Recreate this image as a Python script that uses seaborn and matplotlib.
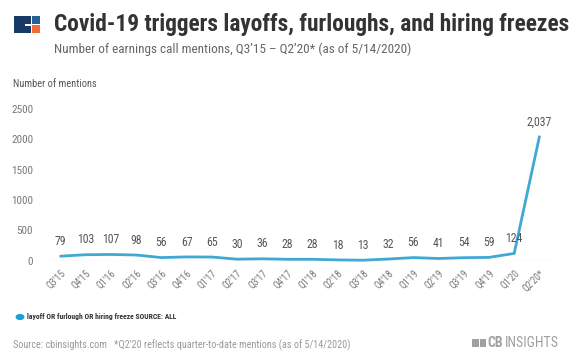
import matplotlib
matplotlib.use("Agg")
import matplotlib.pyplot as plt
import matplotlib.patches as mpatches
from matplotlib import font_manager
import seaborn as sns
import pandas as pd

quarters = ["Q3'15", "Q4'15", "Q1'16", "Q2'16", "Q3'16", "Q4'16", "Q1'17", "Q2'17",
            "Q3'17", "Q4'17", "Q1'18", "Q2'18", "Q3'18", "Q4'18", "Q1'19", "Q2'19",
            "Q3'19", "Q4'19", "Q1'20", "Q2'20*"]
mentions = [79, 103, 107, 98, 56, 67, 65, 30, 36, 28, 28, 18, 13, 32, 56, 41, 54, 59, 124, 2037]
y_ticks = [0, 500, 1000, 1500, 2000, 2500]

sns.set_theme(style="white")
names = sorted({f.name for f in font_manager.fontManager.ttflist})
narrow = None
for cand in ["Roboto Condensed", "Liberation Sans Narrow", "DejaVu Sans Condensed", "Open Sans Condensed"]:
    if cand in names:
        narrow = cand
        break
COND = [narrow, 'Roboto', 'DejaVu Sans'] if narrow else ['Roboto', 'DejaVu Sans']
plt.rcParams['font.family'] = COND

df = pd.DataFrame({"q": quarters, "m": mentions, "x": range(len(quarters))})

fig = plt.figure(figsize=(5.72, 3.64), dpi=100)
ax = fig.add_axes([47/572, 1 - 261/364, 506/572, 152.5/364])
line_color = "#41a8d3"
sns.lineplot(data=df, x="x", y="m", ax=ax, color=line_color, linewidth=2.0, clip_on=False)
ax.set_xlim(-0.54, 19.54)
ax.set_ylim(0, 2500)
ax.axhline(0, color="#e8e8e8", linewidth=1.0, zorder=0)
for s in ax.spines.values():
    s.set_visible(False)
ax.set_xlabel("")
ax.set_ylabel("")
ax.set_yticks(y_ticks)
ax.set_yticklabels([str(v) for v in y_ticks], color="#777777", fontsize=8)
ax.tick_params(axis="y", length=0, pad=10)
ax.set_xticks(df["x"])
ax.set_xticklabels(quarters, rotation=45, ha="right", rotation_mode="anchor",
                   color="#777777", fontsize=7)
ax.tick_params(axis="x", length=0, pad=5)

for xi, v in zip(df["x"], mentions):
    lbl = f"{v:,}"
    ax.annotate(lbl, (xi, v), xytext=(0, 6), textcoords="offset points",
                ha="center", va="bottom", fontsize=8.5, color="#555555")

# logo
navy = "#173a66"
def rect(x0, y0, x1, y1, c):
    fig.patches.append(mpatches.Rectangle((x0/572, 1-y1/364), (x1-x0)/572, (y1-y0)/364,
                       transform=fig.transFigure, color=c, lw=0))
rect(14, 16, 31, 33, navy)
rect(25, 24, 31, 25.5, "white")
rect(32, 16, 40, 24, "#2a5f95")
rect(32, 25.5, 40, 33, "#f26a36")

fig.text(54/572, 1-25/364, "Covid-19 triggers layoffs, furloughs, and hiring freezes",
         fontsize=16.8, fontweight="bold", color="#333333", va="center", ha="left")
fig.text(54/572, 1-49/364, "Number of earnings call mentions, Q3\u201915 \u2013 Q2\u201920* (as of 5/14/2020)",
         fontsize=9.5, color="#666666", va="center", ha="left")
fig.text(13/572, 1-84/364, "Number of mentions", fontsize=7.5, color="#555555", va="center", ha="left")

# legend
fig.patches.append(mpatches.Circle((20/572, 1-317/364), 0.0065, transform=fig.transFigure,
                   color="#1aa0d8"))
fig.text(27/572, 1-317/364, "layoff OR furlough OR hiring freeze SOURCE: ALL", fontsize=5.5,
         color="#333333", va="center", ha="left", fontweight="bold")

fig.text(13/572, 1-345/364, "Source: cbinsights.com   *Q2\u201920 reflects quarter-to-date mentions (as of 5/14/2020)",
         fontsize=7.3, color="#999999", va="center", ha="left")
rect(472, 339, 486, 346.5, "#a0a0a0")
rect(479, 339, 480, 346.5, "white")
fig.text(487/572, 1-343/364, "CB", fontsize=10, fontweight="bold", color="#a0a0a0", va="center", ha="left")
fig.text(505/572, 1-343/364, "INSIGHTS", fontsize=10, color="#a0a0a0", va="center", ha="left")

fig.savefig("out.png", dpi=100)
